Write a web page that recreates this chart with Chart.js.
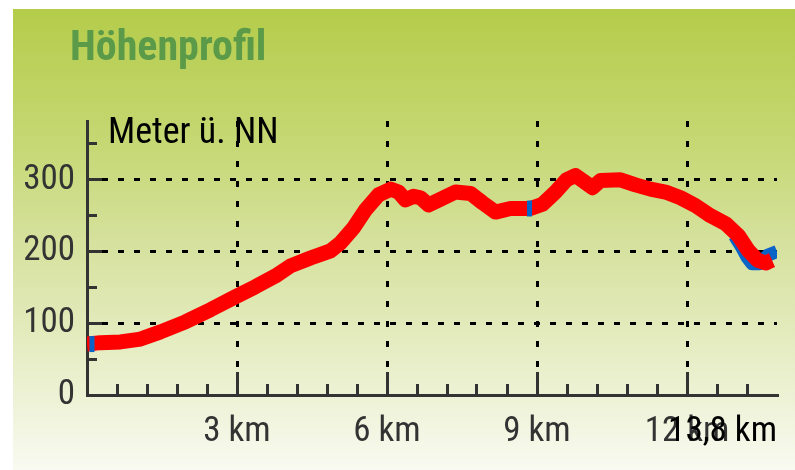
<!DOCTYPE html>
<html><head><meta charset="utf-8">
<script src="https://cdn.jsdelivr.net/npm/chart.js@4"></script>
<style>html,body{margin:0;padding:0;background:#fff;}canvas{display:block;}</style>
</head><body>
<canvas id="c" width="795" height="470"></canvas>
<script>
// ---- data ----
const distanceKm = [0, 0.27, 0.67, 1.07, 1.47, 1.97, 2.47, 2.97, 3.37, 3.77, 4.07, 4.47, 4.87, 5.07, 5.33, 5.57, 5.83, 6.07, 6.23, 6.37, 6.53, 6.67, 6.83, 7.07, 7.37, 7.67, 7.91, 8.17, 8.47, 8.87, 9.11, 9.37, 9.59, 9.77, 9.97, 10.11, 10.27, 10.67, 10.97, 11.27, 11.57, 11.87, 12.17, 12.47, 12.77, 13.03, 13.23, 13.41, 13.57, 13.70];
const elevationM = [71, 73, 74, 78, 88, 102, 119, 137, 151, 166, 180, 191, 201, 212, 233, 258, 279, 287, 283, 272, 277, 275, 265, 273, 283, 281, 268, 255, 260, 260, 266, 283, 300, 306, 296, 289, 299, 300, 293, 287, 283, 275, 264, 250, 239, 222, 201, 188, 184, 188];
const altKm = [12.95, 13.10, 13.20, 13.30, 13.45, 13.62, 13.80];
const altM = [222, 205, 192, 183, 183, 195, 200];
const markerKm = [0.1, 8.85];
const markerM = [71, 260];
const xTickValues = [0, 3, 6, 9, 12];
const xMajorTicks = [3, 6, 9, 12];
const xMinorTicks = [0.6, 1.2, 1.8, 2.4, 3.6, 4.2, 4.8, 5.4, 6.6, 7.2, 7.8, 8.4, 9.6, 10.2, 10.8, 11.4, 12.6, 13.2];
const yTickValues = [0, 100, 200, 300];
const yMajorTicks = [100, 200, 300];
const yMinorTicks = [50, 150, 250, 350];
const totalKm = 13.8;
const totalLabel = '13,8 km';
const yAxisLabel = 'Meter ü. NN';
const titleText = 'Höhenprofil';

const FONT = '"Roboto Condensed", "Liberation Sans Narrow", "Liberation Sans", sans-serif';

function align(px, w) { const h = w / 2; return Math.round(px - h) + h; }

const bgPlugin = {
  id: 'bg',
  beforeDraw(chart) {
    const ctx = chart.ctx;
    ctx.save();
    ctx.fillStyle = '#ffffff';
    ctx.fillRect(0, 0, chart.width, chart.height);
    const g = ctx.createLinearGradient(0, 9, 0, 470);
    g.addColorStop(0, '#b4cc4a');
    g.addColorStop(0.3, '#c6d875');
    g.addColorStop(0.5, '#d5e19c');
    g.addColorStop(0.7, '#e3ebbd');
    g.addColorStop(0.88, '#f0f4dc');
    g.addColorStop(1, '#f9faf1');
    ctx.fillStyle = g;
    ctx.fillRect(13, 9, chart.width - 13, chart.height - 9);
    // title
    ctx.fillStyle = '#5a9a48';
    ctx.font = 'bold 42px ' + FONT;
    ctx.textAlign = 'left';
    ctx.textBaseline = 'alphabetic';
    ctx.fillText(titleText, 70, 60);
    ctx.restore();
  }
};

const tickPlugin = {
  id: 'innerTicks',
  afterDraw(chart) {
    const ctx = chart.ctx;
    const xs = chart.scales.x, ys = chart.scales.y;
    const area = chart.chartArea;
    ctx.save();
    ctx.strokeStyle = '#333';
    ctx.lineWidth = 3;
    ctx.lineCap = 'butt';
    const xt = (v, len) => {
      const px = align(xs.getPixelForValue(v), 3);
      ctx.beginPath(); ctx.moveTo(px, area.bottom); ctx.lineTo(px, area.bottom - len); ctx.stroke();
    };
    const yt = (v, len) => {
      const py = align(ys.getPixelForValue(v), 3);
      ctx.beginPath(); ctx.moveTo(area.left, py); ctx.lineTo(area.left + len, py); ctx.stroke();
    };
    xMajorTicks.forEach(v => xt(v, 23));
    xMinorTicks.forEach(v => xt(v, 11));
    yMajorTicks.forEach(v => yt(v, 15));
    yMinorTicks.forEach(v => yt(v, 10));
    // axis caption and end-distance label
    ctx.fillStyle = '#000';
    ctx.font = '36px ' + FONT;
    ctx.textBaseline = 'alphabetic';
    ctx.textAlign = 'left';
    ctx.fillText(yAxisLabel, area.left + 21, 143);
    ctx.font = '35px ' + FONT;
    ctx.textAlign = 'right';
    ctx.textBaseline = 'middle';
    ctx.fillText(totalLabel, xs.getPixelForValue(totalKm), 432);
    ctx.restore();
  }
};

const pts = (xs, ys) => xs.map((v, i) => ({ x: v, y: ys[i] }));

new Chart(document.getElementById('c'), {
  type: 'line',
  data: {
    datasets: [
      { label: 'marker', data: pts(markerKm, markerM), showLine: false, pointStyle: 'line', rotation: 90,
        pointRadius: 8, pointBorderWidth: 5, pointBorderColor: '#0a64c8', pointBackgroundColor: '#0a64c8', order: -1 },
      { label: 'Höhe', data: pts(distanceKm, elevationM), borderColor: '#ff0000', borderWidth: 15,
        borderJoinStyle: 'round', borderCapStyle: 'butt', pointRadius: 0, tension: 0, order: 0 },
      { label: 'alt', data: pts(altKm, altM), borderColor: '#0a64c8', borderWidth: 13,
        borderJoinStyle: 'round', pointRadius: 0, tension: 0, order: 1 }
    ]
  },
  options: {
    responsive: false,
    animation: false,
    devicePixelRatio: 1,
    layout: { padding: { left: 0, right: 18, top: 121, bottom: 0 } },
    plugins: {
      legend: { display: false },
      tooltip: { enabled: false },
      title: { display: false }
    },
    scales: {
      x: {
        type: 'linear', min: 0, max: totalKm, position: 'bottom',
        afterBuildTicks: s => { s.ticks = xTickValues.map(v => ({ value: v })); },
        afterFit: s => { s.height = 75; s.paddingLeft = 0; s.paddingRight = 0; },
        ticks: { callback: v => v === 0 ? '' : v + ' km', color: '#333', padding: 20, maxRotation: 0, autoSkip: false,
          font: { family: FONT, size: 35, lineHeight: 1 } },
        grid: { drawTicks: false, lineWidth: 3,
          color: c => (c.tick && xMajorTicks.includes(c.tick.value)) ? '#000' : 'rgba(0,0,0,0)' },
        border: { display: true, color: '#333', width: 3, dash: [6, 14], dashOffset: 0 }
      },
      y: {
        type: 'linear', min: 0, max: 382,
        afterBuildTicks: s => { s.ticks = yTickValues.map(v => ({ value: v })); },
        afterFit: s => { s.width = 87; s.paddingTop = 0; s.paddingBottom = 0; },
        ticks: { callback: v => String(v), color: '#333', padding: 12, autoSkip: false,
          font: { family: FONT, size: 35, lineHeight: 1 } },
        grid: { drawTicks: false, lineWidth: 3,
          color: c => (c.tick && c.tick.value !== 0) ? '#000' : 'rgba(0,0,0,0)' },
        border: { display: true, color: '#333', width: 3, dash: [6, 10], dashOffset: 3 }
      }
    }
  },
  plugins: [bgPlugin, tickPlugin]
});
</script>
</body></html>
